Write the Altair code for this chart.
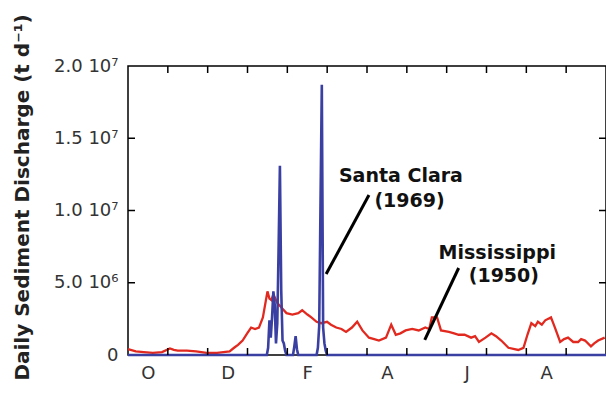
import altair as alt
import pandas as pd

# Day of water year (0 = 1 Oct) and daily sediment discharge (millions of t/d)
miss_day = [0, 6, 12, 19, 26, 32, 35, 38, 45, 52, 60, 68, 77.6, 81, 84, 87.5, 91, 94, 97, 100, 103,
            106.5, 108, 109.5, 111, 112, 114, 118, 121, 125.5, 130, 133, 137, 140, 144, 147.5,
            152, 155, 159, 163, 166.5, 171, 175, 179, 184, 188, 191.6, 197, 201, 204.5, 208,
            212, 217, 222, 227, 230, 232, 236, 239, 245, 249, 252.5, 257, 262, 265, 268, 273, 277.5,
            281, 285, 290.5, 298, 302, 305, 308, 311, 313, 316, 318.6, 323, 326, 330, 333, 336, 340,
            343.7, 346, 349, 353.5, 356, 359, 364]
miss_val = [0.4, 0.25, 0.2, 0.15, 0.2, 0.45, 0.35, 0.3, 0.3, 0.25, 0.15, 0.15, 0.25, 0.5, 0.7, 1.0, 1.5,
            1.9, 1.8, 1.9, 2.6, 4.4, 3.9, 3.8, 4.2, 4.0, 3.6, 3.2, 2.9, 2.8, 2.9, 3.1, 2.8, 2.6,
            2.3, 2.2, 2.3, 2.1, 1.9, 1.8, 1.6, 1.9, 2.3, 1.7, 1.2, 1.1, 1.0, 1.2, 2.1, 1.4, 1.5,
            1.7, 1.8, 1.7, 1.9, 1.8, 2.6, 2.6, 1.7, 1.6, 1.5, 1.4, 1.4, 1.2, 1.3, 0.9, 1.2, 1.5,
            1.3, 1.0, 0.5, 0.35, 0.5, 1.4, 2.2, 2.0, 2.3, 2.1, 2.4, 2.6, 1.9, 0.9, 1.1, 1.2, 0.9,
            0.9, 1.1, 1.0, 0.6, 0.8, 1.0, 1.2]

# Santa Clara River 1969
sc_day = [0, 106, 107, 108, 109, 110, 111, 112, 113, 114, 115, 116, 117, 118, 119, 120, 121,
          126, 127, 128, 129, 130, 144, 145, 146, 147, 148, 149, 150, 151, 152, 365]
sc_val = [0, 0, 0.5, 2.4, 1.2, 2.6, 4.4, 3.5, 0.8, 2.2, 7.4, 13.1, 4.5, 1.0, 0.8, 0.3, 0,
          0, 0.6, 1.3, 0.4, 0, 0, 0.5, 2.0, 10.5, 18.7, 1.9, 0.8, 0.3, 0, 0]

month_letters = ["O", "N", "D", "J", "F", "M", "A", "M", "J", "J", "A", "S"]
y_ticks = [0, 5e6, 1e7, 1.5e7, 2e7]
y_tick_labels = ["0", "5.0 10\u2076", "1.0 10\u2077", "1.5 10\u2077", "2.0 10\u2077"]

# Annotations (day, value in millions)
ann_text = ["Santa Clara", "(1969)", "Mississippi", "(1950)"]
ann_day = [208.4, 215, 282, 287]
ann_val = [12.4, 10.65, 7.05, 5.5]
lead_day = [151.3, 226.6]
lead_day2 = [184, 252.5]
lead_val = [5.6, 1.04]
lead_val2 = [11.07, 6.02]

W, H = 478, 289
FONT = "DejaVu Sans"
RED = "#e2291f"
BLUE = "#3a3fa2"

miss = pd.DataFrame({"day": miss_day, "q": [v * 1e6 for v in miss_val]})
sc = pd.DataFrame({"day": sc_day, "q": [v * 1e6 for v in sc_val]})
ann = pd.DataFrame({"day": ann_day, "q": [v * 1e6 for v in ann_val], "t": ann_text})
lead = pd.DataFrame({"d1": lead_day, "d2": lead_day2,
                     "q1": [v * 1e6 for v in lead_val], "q2": [v * 1e6 for v in lead_val2]})
month_len = 365 / 12
mticks = pd.DataFrame({"day": [k * month_len for k in range(1, 12)]})
mlabels_pos = [(k + 0.5) * month_len for k in range(0, 12, 2)]
ytk = pd.DataFrame({"q": y_ticks[1:-1]})

label_expr = "{" + ",".join(
    f"'{int(v)}':'{l}'" for v, l in zip(y_ticks, y_tick_labels)) + "}[''+datum.value]"
xlabel_expr = "[" + ",".join(f"'{m}'" for m in month_letters) + "][floor(datum.value / (365/12))]"

xs = alt.Scale(domain=[0, 365], nice=False, zero=False)
ys = alt.Scale(domain=[0, 2e7], nice=False)

x_axis = alt.Axis(values=mlabels_pos, labelExpr=xlabel_expr, ticks=False, domain=False,
                  grid=False, labelFontSize=18, labelFont=FONT, labelColor="#333",
                  labelPadding=9, title=None)
y_axis = alt.Axis(values=y_ticks, labelExpr=label_expr, ticks=False, domain=False, grid=False,
                  labelFontSize=18, labelFont=FONT, labelColor="#333", labelPadding=10,
                  title="Daily Sediment Discharge (t d\u207b\u00b9)", titleFont=FONT,
                  titleFontSize=20, titleFontWeight="bold", titleColor="#222",
                  titleAngle=270, titleX=-106, titleY=131, titleAlign="center",
                  titleBaseline="middle")

base_x = alt.X("day:Q", scale=xs, axis=x_axis)
base_y = alt.Y("q:Q", scale=ys, axis=y_axis)

red = alt.Chart(miss).mark_line(color=RED, strokeWidth=2.3).encode(x=base_x, y=base_y)
blue = alt.Chart(sc).mark_line(color=BLUE, strokeWidth=2.6).encode(
    x=alt.X("day:Q", scale=xs), y=alt.Y("q:Q", scale=ys))

bt = alt.Chart(mticks).mark_rule(color="black", strokeWidth=1.5).encode(
    x=alt.X("day:Q", scale=xs), y=alt.value(H), y2=alt.value(H - 7))
tt = alt.Chart(mticks).mark_rule(color="black", strokeWidth=1.5).encode(
    x=alt.X("day:Q", scale=xs), y=alt.value(0), y2=alt.value(7))
lt = alt.Chart(ytk).mark_rule(color="black", strokeWidth=1.5).encode(
    y=alt.Y("q:Q", scale=ys), x=alt.value(0), x2=alt.value(7))
rt = alt.Chart(ytk).mark_rule(color="black", strokeWidth=1.5).encode(
    y=alt.Y("q:Q", scale=ys), x=alt.value(W), x2=alt.value(W - 7))

leaders = alt.Chart(lead).mark_rule(color="black", strokeWidth=3).encode(
    x=alt.X("d1:Q", scale=xs), x2="d2:Q", y=alt.Y("q1:Q", scale=ys), y2="q2:Q")
texts = alt.Chart(ann).mark_text(font=FONT, fontSize=19, fontWeight="bold",
                                 color="#111", baseline="middle", align="center").encode(
    x=alt.X("day:Q", scale=xs), y=alt.Y("q:Q", scale=ys), text="t:N")

chart = alt.layer(red, blue, bt, tt, lt, rt, leaders, texts).properties(
    width=W, height=H,
    background="white",
    padding={"left": 128, "top": 66, "right": 0, "bottom": 38},
    autosize=alt.AutoSizeParams(type="none"),
).configure_view(stroke="black", strokeWidth=1.5)

chart.save("out.html", embed_options={"renderer": "svg", "actions": False})
